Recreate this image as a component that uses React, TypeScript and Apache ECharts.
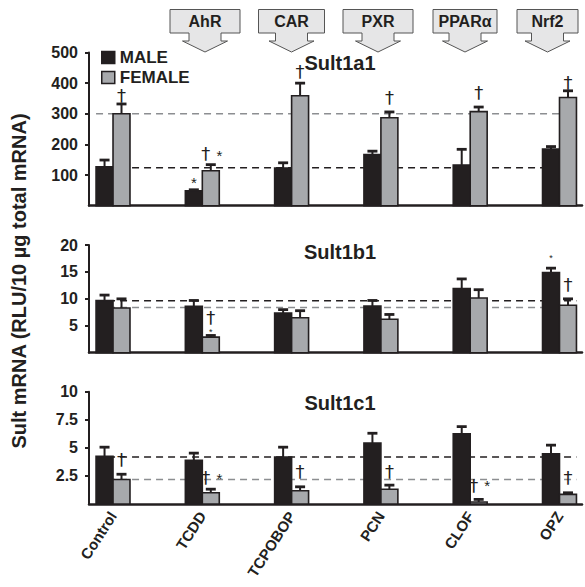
import React, { useEffect, useRef } from 'react';
import * as echarts from 'echarts';

// ---------- data ----------
const categories = ['Control', 'TCDD', 'TCPOBOP', 'PCN', 'CLOF', 'OPZ'];
const receptors = ['AhR', 'CAR', 'PXR', 'PPARα', 'Nrf2'];
const panelTitles = ['Sult1a1', 'Sult1b1', 'Sult1c1'];
const yMaxes = [500, 20, 10];
const yIntervals = [100, 5, 2.5];

const sult1a1Male = [127, 49, 123, 167, 133, 185];
const sult1a1MaleSem = [22, 3, 17, 11, 51, 8];
const sult1a1Female = [300, 114, 359, 287, 307, 353];
const sult1a1FemaleSem = [32, 20, 41, 19, 15, 22];

const sult1b1Male = [9.7, 8.6, 7.35, 8.65, 11.9, 14.9];
const sult1b1MaleSem = [1.0, 1.1, 0.65, 1.05, 1.8, 0.8];
const sult1b1Female = [8.3, 2.9, 6.5, 6.2, 10.15, 8.8];
const sult1b1FemaleSem = [1.7, 0.3, 1.3, 0.9, 1.55, 1.2];

const sult1c1Male = [4.24, 3.9, 4.18, 5.42, 6.24, 4.48];
const sult1c1MaleSem = [0.82, 0.63, 0.88, 0.88, 0.65, 0.76];
const sult1c1Female = [2.18, 1.0, 1.18, 1.32, 0.18, 0.86];
const sult1c1FemaleSem = [0.47, 0.32, 0.35, 0.36, 0.23, 0.14];

// control reference levels (dashed lines)
const refMale = [124, 9.65, 4.18];
const refFemale = [300, 8.4, 2.18];

// significance marks: [category index, position, value, symbol, size]
type Mark = [number, string, number, string, number];
const sult1a1Marks: Mark[] = [
  [0, 'f', 360, '†', 18],
  [1, 'm', 86, '*', 15],
  [1, 'fl', 171, '†', 18],
  [1, 'fr', 175, '*', 15],
  [2, 'f', 438, '†', 18],
  [3, 'f', 354, '†', 18],
  [4, 'f', 370, '†', 18],
  [5, 'f', 403, '†', 18],
];
const sult1b1Marks: Mark[] = [
  [1, 'f', 6.5, '†', 18],
  [1, 'f', 4.2, '*', 9],
  [5, 'm', 18.0, '*', 9],
  [5, 'f', 12.6, '†', 18],
];
const sult1c1Marks: Mark[] = [
  [0, 'f', 4.0, '†', 18],
  [1, 'fl', 2.4, '†', 18],
  [1, 'fr', 2.6, '*', 15],
  [2, 'f', 2.87, '†', 18],
  [3, 'f', 2.87, '†', 18],
  [4, 'fl', 1.68, '†', 18],
  [4, 'fr', 1.95, '*', 15],
  [5, 'f', 2.32, '†', 18],
];

const panels = [
  { male: sult1a1Male, maleSem: sult1a1MaleSem, female: sult1a1Female, femaleSem: sult1a1FemaleSem, marks: sult1a1Marks },
  { male: sult1b1Male, maleSem: sult1b1MaleSem, female: sult1b1Female, femaleSem: sult1b1FemaleSem, marks: sult1b1Marks },
  { male: sult1c1Male, maleSem: sult1c1MaleSem, female: sult1c1Female, femaleSem: sult1c1FemaleSem, marks: sult1c1Marks },
];

// ---------- style / layout ----------
const FONT = 'Liberation Sans, Arial, Helvetica, sans-serif';
const MARK_FONT = 'DejaVu Sans, Liberation Sans, sans-serif';
const INK = '#231f20';
const MALE_COLOR = '#231f20';
const FEMALE_COLOR = '#a7a9ac';
const GRID_LEFT = 89;
const GRID_WIDTH = 493;
const gridTops = [52.5, 245, 391.7];
const gridHeights = [153.2, 107.7, 112.3];
const X_MIN = -0.269;
const X_MAX = 5.252;
const BAR_FRAC = 0.19;
const boxCenters = [205, 291.5, 378, 465, 547.5];
const boxHalfWidths = [35, 33, 35, 32, 30.5];

function App() {
  const ref = useRef<HTMLDivElement>(null);

  useEffect(() => {
    if (!ref.current) return;
    const chart = echarts.init(ref.current, undefined, { renderer: 'svg' });

    const grids: any[] = [];
    const xAxes: any[] = [];
    const yAxes: any[] = [];
    const series: any[] = [];
    const graphics: any[] = [];

    panels.forEach((p, k) => {
      grids.push({ left: GRID_LEFT, width: GRID_WIDTH, top: gridTops[k], height: gridHeights[k] });
      xAxes.push({
        type: 'value',
        gridIndex: k,
        min: X_MIN,
        max: X_MAX,
        axisLine: { show: true, onZero: false, lineStyle: { color: INK, width: 2.5 } },
        axisTick: { show: false },
        splitLine: { show: false },
        axisLabel:
          k === 2
            ? {
                show: true,
                customValues: [0, 1, 2, 3, 4, 5],
                formatter: (v: number) => categories[Math.round(v)] ?? '',
                rotate: 57,
                margin: 9,
                fontFamily: FONT,
                fontWeight: 'bold',
                fontSize: 15,
                color: INK,
              }
            : { show: false },
      });
      yAxes.push({
        type: 'value',
        gridIndex: k,
        min: 0,
        max: yMaxes[k],
        interval: yIntervals[k],
        axisLine: { show: true, onZero: false, lineStyle: { color: INK, width: 2 } },
        axisTick: { show: true, length: 4, lineStyle: { color: INK, width: 2 } },
        splitLine: { show: false },
        axisLabel: {
          showMinLabel: false,
          margin: 11,
          fontFamily: FONT,
          fontWeight: 'bold',
          fontSize: 16,
          color: INK,
        },
      });

      // dashed control reference lines
      const refs = [
        { v: refMale[k], color: INK },
        { v: refFemale[k], color: '#8c8e91' },
      ];
      refs.forEach((r) => {
        series.push({
          type: 'line',
          xAxisIndex: k,
          yAxisIndex: k,
          z: 1,
          symbol: 'none',
          silent: true,
          data: [
            [-BAR_FRAC, r.v],
            [5 + BAR_FRAC, r.v],
          ],
          lineStyle: { color: r.color, width: 1.6, type: [7, 5] },
        });
      });

      // bars + error bars
      const sexes = [
        { name: 'MALE', vals: p.male, sem: p.maleSem, color: MALE_COLOR, side: -1 },
        { name: 'FEMALE', vals: p.female, sem: p.femaleSem, color: FEMALE_COLOR, side: 1 },
      ];
      sexes.forEach((s) => {
        series.push({
          type: 'custom',
          name: s.name,
          xAxisIndex: k,
          yAxisIndex: k,
          z: 3,
          itemStyle: { color: s.color, borderColor: INK, borderWidth: 1.5 },
          data: s.vals.map((v, i) => [i, v, s.sem[i]]),
          encode: { x: 0, y: 1 },
          renderItem: (params: any, api: any) => {
            const i = api.value(0);
            const v = api.value(1);
            const e = api.value(2);
            const unit = api.size([1, 0])[0];
            const w = unit * BAR_FRAC;
            const base = api.coord([i, 0]);
            const cx = base[0] + (s.side * w) / 2;
            const top = api.coord([i, v])[1];
            const errTop = api.coord([i, v + e])[1];
            return {
              type: 'group',
              children: [
                { type: 'line', shape: { x1: cx, y1: top, x2: cx, y2: errTop }, style: { stroke: INK, lineWidth: 2 } },
                { type: 'line', shape: { x1: cx - 5, y1: errTop, x2: cx + 5, y2: errTop }, style: { stroke: INK, lineWidth: 2.8 } },
                {
                  type: 'rect',
                  shape: { x: cx - w / 2, y: top, width: w, height: base[1] - top },
                  style: { fill: s.color, stroke: INK, lineWidth: 1.6 },
                },
              ],
            };
          },
        });
      });

      // significance marks
      series.push({
        type: 'custom',
        xAxisIndex: k,
        yAxisIndex: k,
        z: 4,
        silent: true,
        itemStyle: { color: INK },
        data: p.marks.map((m) => [m[0], m[2]]),
        encode: { x: 0, y: 1 },
        renderItem: (params: any, api: any) => {
          const m = p.marks[params.dataIndex];
          const unit = api.size([1, 0])[0];
          const half = (unit * BAR_FRAC) / 2;
          const pt = api.coord([m[0], m[2]]);
          let dx = 0;
          if (m[1] === 'm') dx = -half;
          else if (m[1] === 'f') dx = half;
          else if (m[1] === 'fl') dx = half - 5;
          else if (m[1] === 'fr') dx = half + 8.5;
          const isStar = m[3] === '*';
          return {
            type: 'text',
            x: pt[0] + dx,
            y: pt[1] + (isStar ? m[4] * 0.22 : 0),
            style: {
              text: m[3],
              fontFamily: isStar ? FONT : MARK_FONT,
              fontSize: m[4],
              fill: INK,
              align: 'center',
              verticalAlign: 'middle',
            },
          };
        },
      });

      // panel title
      graphics.push({
        type: 'text',
        x: 340,
        y: [62.7, 251.7, 402.7][k],
        style: {
          text: panelTitles[k],
          fontFamily: FONT,
          fontWeight: 'bold',
          fontSize: 20,
          fill: INK,
          align: 'center',
          verticalAlign: 'middle',
        },
        z: 10,
      });
    });

    // receptor arrow boxes
    receptors.forEach((r, j) => {
      const c = boxCenters[j];
      const hw = boxHalfWidths[j];
      graphics.push({
        type: 'polygon',
        shape: {
          points: [
            [c - hw, 9.5],
            [c + hw, 9.5],
            [c + hw, 33],
            [c + 16, 33],
            [c + 16, 41],
            [c + 22.5, 41],
            [c, 52],
            [c - 22.5, 41],
            [c - 16, 41],
            [c - 16, 33],
            [c - hw, 33],
          ],
        },
        style: { fill: '#e6e6e7', stroke: '#555', lineWidth: 1 },
        z: 10,
      });
      graphics.push({
        type: 'text',
        x: c,
        y: 21.5,
        style: {
          text: r,
          fontFamily: FONT,
          fontWeight: 'bold',
          fontSize: 16,
          fill: INK,
          align: 'center',
          verticalAlign: 'middle',
        },
        z: 11,
      });
    });

    // y axis name
    graphics.push({
      type: 'text',
      x: 19,
      y: 281,
      rotation: Math.PI / 2,
      style: {
        text: 'Sult mRNA (RLU/10 µg total mRNA)',
        fontFamily: FONT,
        fontWeight: 'bold',
        fontSize: 20,
        fill: INK,
        align: 'center',
        verticalAlign: 'middle',
      },
    });

    chart.setOption({
      animation: false,
      backgroundColor: '#ffffff',
      grid: grids,
      xAxis: xAxes,
      yAxis: yAxes,
      legend: {
        orient: 'vertical',
        left: 96,
        top: 44,
        itemWidth: 13,
        itemHeight: 12,
        itemGap: 3,
        selectedMode: false,
        textStyle: { fontFamily: FONT, fontWeight: 'bold', fontSize: 17, lineHeight: 17, color: INK },
        data: [
          { name: 'MALE', icon: 'rect', itemStyle: { color: MALE_COLOR, borderColor: INK, borderWidth: 1.5 } },
          { name: 'FEMALE', icon: 'rect', itemStyle: { color: FEMALE_COLOR, borderColor: INK, borderWidth: 1.5 } },
        ],
      },
      graphic: graphics,
      series,
    });

    return () => chart.dispose();
  }, []);

  return <div ref={ref} style={{ position: 'fixed', left: 0, top: 0, width: 585, height: 587 }} />;
}

export default App;
